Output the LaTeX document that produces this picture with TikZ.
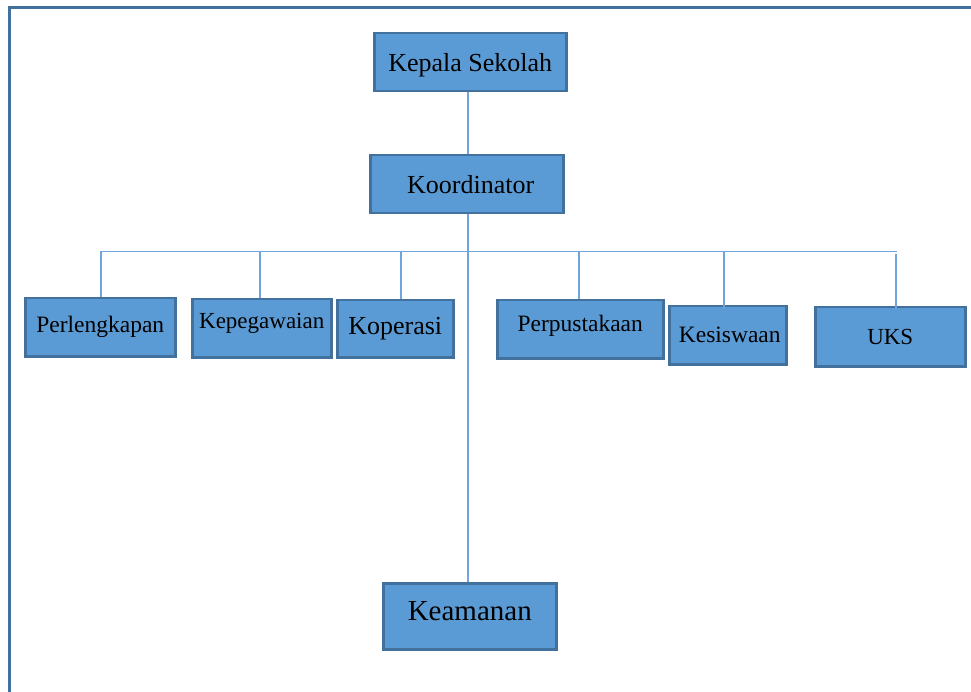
\documentclass[tikz,border=0pt]{standalone}
\usepackage{fontspec}
\setmainfont{Liberation Serif}
\definecolor{boxfill}{HTML}{5B9BD5}
\definecolor{boxedge}{HTML}{41719C}
\definecolor{linkblue}{HTML}{6FA5DA}
% shift a label vertically without changing its box size
\newcommand{\liftby}[2]{\raisebox{#1}[\height][\depth]{#2}}
\begin{document}
\begin{tikzpicture}[x=1pt,y=-1pt,
  unit/.style={draw=boxedge, fill=boxfill, line width=2.5pt, inner sep=0pt,
               anchor=north west, align=center, text=black},
  link/.style={draw=linkblue, line width=1.3pt},
  frame/.style={draw=boxedge, line width=3pt}]
\useasboundingbox (0,0) rectangle (971,692);
% page frame (open towards the right and bottom)
\draw[frame] (9,700) -- (9,8) -- (980,8);

% connectors
\coordinate (spine) at (468,0);
\coordinate (busL) at (101,251.5);
\coordinate (busR) at (897,251.5);
\coordinate (d2) at (260,251.5);
\coordinate (d3) at (401,251.5);
\coordinate (d4) at (579,251.5);
\coordinate (d5) at (724,251.5);
\coordinate (d6) at (896,254);

% boxes
\node[unit, minimum width=192pt, minimum height=58pt, font=\fontsize{26}{30}\selectfont] (kepala) at (373,32) {\liftby{-3.5pt}{Kepala Sekolah}};
\node[unit, minimum width=193pt, minimum height=58pt, font=\fontsize{26}{30}\selectfont] (koord) at (369,154) {\hspace*{8pt}Koordinator};
\node[unit, minimum width=150pt, minimum height=58pt, font=\fontsize{23.5}{28}\selectfont] (perl) at (24,297) {Perlengkapan};
\node[unit, minimum width=139pt, minimum height=58pt, font=\fontsize{23}{28}\selectfont] (kepeg) at (191,298) {\liftby{5pt}{Kepegawaian}};
\node[unit, minimum width=116pt, minimum height=57pt, font=\fontsize{26}{30}\selectfont] (kop) at (336,299) {Koperasi};
\node[unit, minimum width=166pt, minimum height=58pt, font=\fontsize{23.5}{28}\selectfont] (perp) at (496,299) {\liftby{3.5pt}{Perpustakaan}};
\node[unit, minimum width=117pt, minimum height=58pt, font=\fontsize{23.5}{28}\selectfont] (kes) at (668,305) {\hspace*{4pt}Kesiswaan};
\node[unit, minimum width=150pt, minimum height=59pt, font=\fontsize{23}{28}\selectfont] (uks) at (814,306) {UKS};
\node[unit, minimum width=173pt, minimum height=66pt, font=\fontsize{29}{34}\selectfont] (keam) at (382,582) {\liftby{5.5pt}{Keamanan}};

% tree lines
\draw[link] (spine |- kepala.south) -- (spine |- koord.north);
\draw[link] (spine |- koord.south) -- (spine |- keam.north);
\draw[link] (busL) -- (busR);
\draw[link] (busL) -- (busL |- perl.north);
\draw[link] (d2) -- (d2 |- kepeg.north);
\draw[link] (d3) -- (d3 |- kop.north);
\draw[link] (d4) -- (d4 |- perp.north);
\draw[link] (d5) -- ([yshift=-3pt]d5 |- kes.north);
\draw[link] (d6) -- ([yshift=-3pt]d6 |- uks.north);
\end{tikzpicture}
\end{document}
